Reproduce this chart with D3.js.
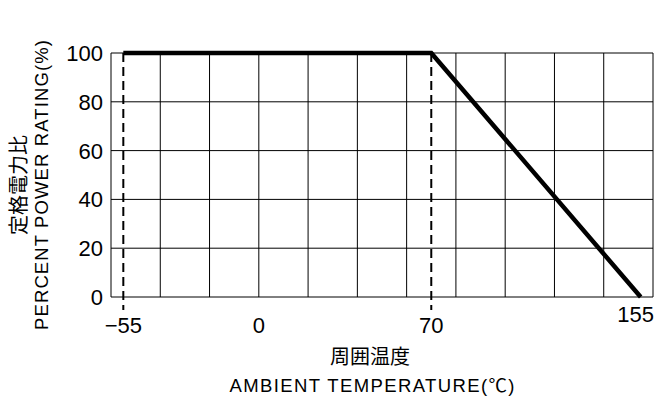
<!DOCTYPE html><html><head><meta charset="utf-8"><script src="https://d3js.org/d3.v7.min.js"></script>
<style>body{margin:0;background:#fff}text{font-family:"Liberation Sans","Noto Sans CJK JP",sans-serif;fill:#000}.jp{font-family:"Noto Sans CJK JP",sans-serif}</style></head><body><svg id="c" width="666" height="408"></svg><script>
const xTicks=[-55,0,70,155];
const yTicks=[0,20,40,60,80,100];
const xGrid=[-60,-40,-20,0,20,40,60,80,100,120,140,160];
const curveT=[-55,70,155];
const curveP=[100,100,0];
const dashed=[-55,70];
const svg=d3.select("#c");
const x=d3.scaleLinear().domain([-60,160]).range([111,653]);
const y=d3.scaleLinear().domain([0,100]).range([297,53]);
svg.selectAll(".gx").data(xGrid).join("line").attr("x1",x).attr("x2",x).attr("y1",y(0)).attr("y2",y(100)).attr("stroke","#000").attr("stroke-width",1);
svg.selectAll(".gy").data(yTicks).join("line").attr("y1",y).attr("y2",y).attr("x1",x(-60)).attr("x2",x(160)).attr("stroke","#000").attr("stroke-width",1);
svg.selectAll(".d").data(dashed).join("line").attr("x1",x).attr("x2",x).attr("y1",y(100)).attr("y2",y(0)+13).attr("stroke","#000").attr("stroke-width",2).attr("stroke-dasharray","9,5");
svg.append("path").datum(curveT.map((t,i)=>[t,curveP[i]])).attr("d",d3.line().x(d=>x(d[0])).y(d=>y(d[1]))).attr("fill","none").attr("stroke","#000").attr("stroke-width",4.5);
svg.selectAll(".yl").data(yTicks).join("text").attr("x",103).attr("y",d=>y(d)+8).attr("text-anchor","end").attr("font-size",22).text(d=>d);
svg.selectAll(".xl").data(xTicks).join("text").attr("x",d=>d===155?x(d)-5:x(d)).attr("y",d=>d===155?322:333).attr("text-anchor","middle").attr("font-size",22).text(d=>d===-55?"\u221255":d);
svg.append("text").attr("class","jp").attr("x",370).attr("y",364).attr("text-anchor","middle").attr("font-size",20).text("周囲温度");
svg.append("text").attr("x",372).attr("y",392).attr("text-anchor","middle").attr("font-size",18.5).attr("textLength",285).text("AMBIENT TEMPERATURE(℃)");
const g=svg.append("g").attr("transform","translate(0,185) rotate(-90)");
g.append("text").attr("class","jp").attr("x",0).attr("y",26).attr("text-anchor","middle").attr("font-size",20).text("定格電力比");
g.append("text").attr("x",0).attr("y",48).attr("text-anchor","middle").attr("font-size",18.5).attr("textLength",290).text("PERCENT POWER RATING(%)");
</script></body></html>
